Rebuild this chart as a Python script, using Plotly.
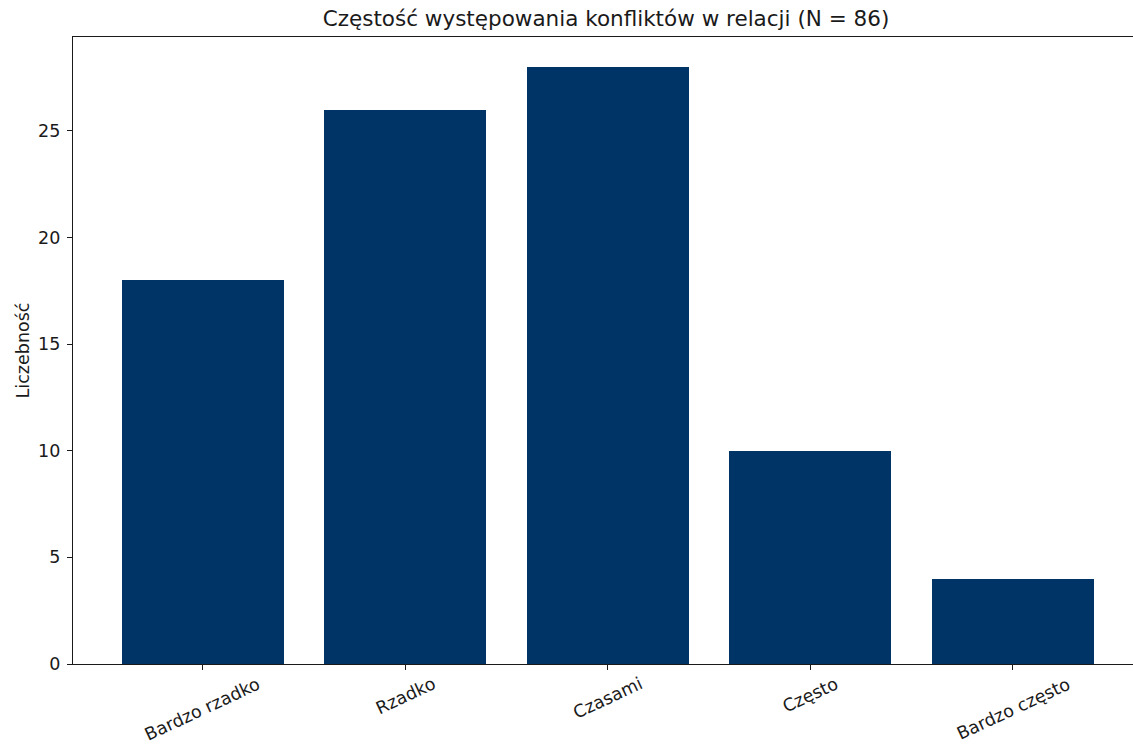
import plotly.graph_objects as go

categories = ["Bardzo rzadko", "Rzadko", "Czasami", "Często", "Bardzo często"]
counts = [18, 26, 28, 10, 4]
y_ticks = [0, 5, 10, 15, 20, 25]

title_text = "Częstość występowania konfliktów w relacji (N = 86)"
y_label = "Liczebność"

FONT = "DejaVu Sans"
BAR_COLOR = "#003366"
INK = "#1a1a1a"
FS = 17.5

fig = go.Figure()
fig.add_trace(go.Bar(
    x=list(range(len(categories))), y=counts,
    width=0.8,
    marker=dict(color=BAR_COLOR, line=dict(width=0)),
    showlegend=False,
))

# rotated category labels, centred under each tick like matplotlib
for i, cat in enumerate(categories):
    fig.add_annotation(
        x=i, y=0, xref="x", yref="y",
        text=cat, textangle=-25, showarrow=False,
        xanchor="center", yanchor="top", yshift=-7,
        font=dict(family=FONT, size=FS, color=INK),
    )

fig.update_layout(
    width=1133, height=745,
    margin=dict(l=73, r=0, t=37, b=81),
    paper_bgcolor="white", plot_bgcolor="white",
    font=dict(family=FONT, size=FS, color=INK),
    title=dict(
        text=title_text, x=606 / 1133, xref="container", xanchor="center",
        y=1 - 18 / 745, yref="container", yanchor="middle",
        font=dict(family=FONT, size=21.5, color=INK),
    ),
    bargap=0,
)
fig.update_xaxes(
    range=[-0.64, 4.593],
    tickmode="array", tickvals=list(range(len(categories))),
    showticklabels=False,
    ticks="outside", ticklen=5, tickwidth=1.2, tickcolor=INK,
    showline=True, linecolor=INK, linewidth=1.3, mirror=True,
    showgrid=False, zeroline=False,
)
fig.update_yaxes(
    range=[0, 29.4],
    tickmode="array", tickvals=y_ticks,
    ticks="outside", ticklen=5, tickwidth=1.2, tickcolor=INK,
    ticklabelstandoff=3,
    tickfont=dict(family=FONT, size=FS, color=INK),
    showline=True, linecolor=INK, linewidth=1.3,
    showgrid=False, zeroline=False,
    title=dict(text=y_label, standoff=3, font=dict(family=FONT, size=FS, color=INK)),
)

# drop the default page margin so the figure sits at the window's corner
fig.write_html("out.html", config={"displayModeBar": False},
               post_script="document.body.style.margin='0';")
